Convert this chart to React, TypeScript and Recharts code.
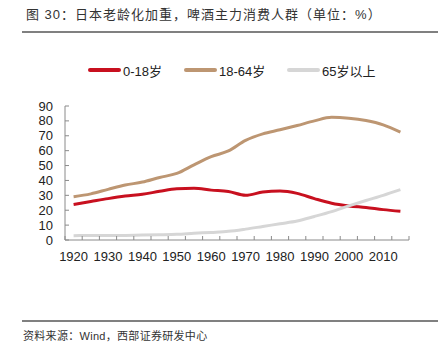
import React from "react";
import { LineChart, Line, XAxis, YAxis, Legend } from "recharts";

// data (unit: %)
const years = [1920, 1925, 1930, 1935, 1940, 1945, 1950, 1955, 1960, 1965, 1970, 1975, 1980, 1985, 1990, 1995, 2000, 2005, 2010, 2015];
const youth = [23.8, 25.8, 27.8, 29.5, 30.7, 32.7, 34.4, 34.7, 33.5, 32.6, 30.0, 32.2, 32.9, 31.3, 27.8, 24.7, 22.9, 21.8, 20.4, 19.3];
const working = [29.1, 31.0, 34.0, 36.9, 38.9, 42.0, 44.7, 50.5, 56.0, 59.8, 66.9, 71.3, 74.0, 76.9, 80.0, 82.4, 81.8, 80.2, 77.3, 72.4];
const elderly = [2.9, 3.0, 3.0, 3.1, 3.3, 3.5, 3.8, 4.5, 5.1, 5.8, 7.3, 9.1, 10.9, 12.7, 15.8, 19.1, 22.9, 26.5, 30.0, 33.8];

const yTicks = [0, 10, 20, 30, 40, 50, 60, 70, 80, 90];
const xLabels = [1920, 1930, 1940, 1950, 1960, 1970, 1980, 1990, 2000, 2010];
const xBounds = [1917.5, 1922.5, 1927.5, 1932.5, 1937.5, 1942.5, 1947.5, 1952.5, 1957.5, 1962.5, 1967.5, 1972.5, 1977.5, 1982.5, 1987.5, 1992.5, 1997.5, 2002.5, 2007.5, 2012.5, 2017.5];

const series = [
  { key: "youth", name: "0-18岁", color: "#c8101f" },
  { key: "working", name: "18-64岁", color: "#bd9672" },
  { key: "elderly", name: "65岁以上", color: "#d6d6d6" },
];

const data = years.map((year, i) => ({
  year,
  youth: youth[i],
  working: working[i],
  elderly: elderly[i],
}));

const FONT = '"Liberation Sans", Arial, "Noto Sans CJK SC", sans-serif';
const AXIS = "#8a8a8a";
const LEGEND_H = 16;

const XTick = (props: any) => {
  const { x, y, payload } = props;
  const v = payload.value;
  if (xLabels.includes(v)) {
    return (
      <text x={x} y={y + 21} textAnchor="middle" fontSize={13} fill="#222" fontFamily={FONT}>
        {v}
      </text>
    );
  }
  return <line x1={x} x2={x} y1={y} y2={y - 4} stroke={AXIS} />;
};

const YTick = (props: any) => {
  const { x, y, payload } = props;
  return (
    <g>
      <line x1={x} x2={x + 4} y1={y} y2={y} stroke={AXIS} />
      <text x={x - 12} y={y + 4.5} textAnchor="end" fontSize={13} fill="#222" fontFamily={FONT}>
        {payload.value}
      </text>
    </g>
  );
};

const legendLeft = [88, 184, 287];

const renderLegend = () => (
  <div style={{ position: "relative", height: LEGEND_H }}>
    {series.map((s, i) => (
      <div
        key={s.key}
        style={{ position: "absolute", left: legendLeft[i], top: 0, display: "flex", alignItems: "center", height: LEGEND_H }}
      >
        <div style={{ width: 33, height: 3.5, background: s.color, borderRadius: 2 }} />
        <span style={{ marginLeft: 2, fontSize: 13, color: "#222", fontFamily: FONT }}>{s.name}</span>
      </div>
    ))}
  </div>
);

export default function App() {
  return (
    <div style={{ position: "absolute", left: 0, top: 0, width: 446, height: 345, background: "#fff" }}>
      <div
        style={{
          position: "absolute",
          left: 26,
          top: 6,
          fontSize: 13,
          letterSpacing: 1,
          color: "#333",
          fontFamily: FONT,
          whiteSpace: "nowrap",
          lineHeight: "18px",
        }}
      >
        图 30：日本老龄化加重，啤酒主力消费人群（单位：%）
      </div>
      <div style={{ position: "absolute", left: 22, top: 31, width: 416, height: 1.5, background: "#808080" }} />

      {/* top legend height is added to the top margin by recharts */}
      <LineChart width={446} height={345} data={data} margin={{ top: 106 - LEGEND_H, right: 37, left: 0, bottom: 75 }}>
        <XAxis
          dataKey="year"
          type="number"
          domain={[1917.5, 2017.5]}
          ticks={[...xBounds, ...xLabels]}
          interval={0}
          tick={<XTick />}
          tickLine={false}
          tickSize={0}
          tickMargin={0}
          height={30}
          stroke={AXIS}
          allowDecimals
        />
        <YAxis
          type="number"
          domain={[0, 90]}
          ticks={yTicks}
          interval={0}
          tick={<YTick />}
          tickLine={false}
          tickSize={0}
          tickMargin={0}
          width={65}
          stroke={AXIS}
        />
        <Legend
          verticalAlign="top"
          height={LEGEND_H}
          content={renderLegend}
          wrapperStyle={{ position: "absolute", top: 62, left: 0, width: 446 }}
        />
        {series.map((s) => (
          <Line
            key={s.key}
            dataKey={s.key}
            name={s.name}
            type="monotone"
            stroke={s.color}
            strokeWidth={3}
            dot={false}
            isAnimationActive={false}
          />
        ))}
      </LineChart>

      <div style={{ position: "absolute", left: 22, top: 320, width: 416, height: 1.5, background: "#808080" }} />
      <div
        style={{
          position: "absolute",
          left: 23,
          top: 329,
          fontSize: 11,
          letterSpacing: 0.3,
          color: "#333",
          fontFamily: FONT,
          whiteSpace: "nowrap",
          lineHeight: "15px",
        }}
      >
        资料来源：Wind，西部证券研发中心
      </div>
    </div>
  );
}
